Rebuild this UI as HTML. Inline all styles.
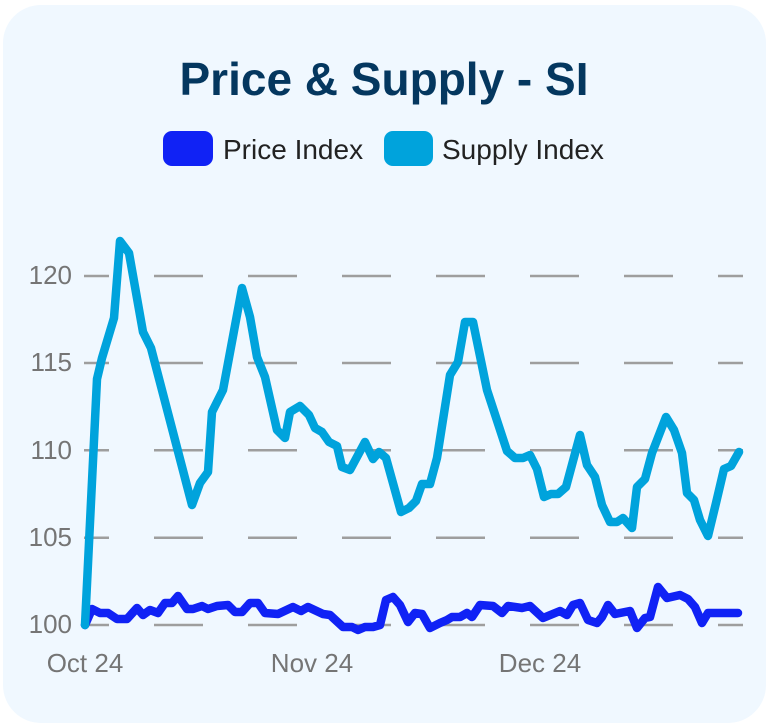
<!DOCTYPE html>
<html>
<head>
<meta charset="utf-8">
<style>
  html, body { margin:0; padding:0; background:#ffffff; }
  svg { display:block; }
  text { font-family: "Liberation Sans", sans-serif; }
</style>
</head>
<body>
<svg width="768" height="725" viewBox="0 0 768 725" xmlns="http://www.w3.org/2000/svg">
  <rect x="0" y="0" width="768" height="725" fill="#ffffff"/>
  <rect x="3" y="5" width="763" height="718" rx="38" ry="38" fill="#f0f8ff"/>

  <!-- Title -->
  <text x="384" y="95" text-anchor="middle" font-size="46" font-weight="bold" fill="#04375f">Price &amp; Supply - SI</text>

  <!-- Legend -->
  <rect x="163" y="131" width="50" height="35" rx="9" ry="9" fill="#1022f5"/>
  <text x="223" y="159" font-size="28" fill="#222222">Price Index</text>
  <rect x="384" y="131" width="49" height="35" rx="9" ry="9" fill="#00a3dc"/>
  <text x="442" y="159" font-size="28" fill="#222222">Supply Index</text>

  <!-- Gridlines -->
  <g stroke="#9e9e9e" stroke-width="2.5" stroke-dasharray="49 45" stroke-dashoffset="24" fill="none">
    <line x1="84" y1="276" x2="743" y2="276"/>
    <line x1="84" y1="363" x2="743" y2="363"/>
    <line x1="84" y1="450.3" x2="743" y2="450.3"/>
    <line x1="84" y1="537.7" x2="743" y2="537.7"/>
    <line x1="84" y1="625" x2="743" y2="625"/>
  </g>

  <!-- Y labels -->
  <g font-size="26" fill="#757575" text-anchor="end">
    <text x="72" y="284">120</text>
    <text x="72" y="371">115</text>
    <text x="72" y="459">110</text>
    <text x="72" y="546">105</text>
    <text x="72" y="633">100</text>
  </g>

  <!-- X labels -->
  <g font-size="26" fill="#757575" text-anchor="middle">
    <text x="85" y="672">Oct 24</text>
    <text x="312" y="672">Nov 24</text>
    <text x="540" y="672">Dec 24</text>
  </g>

  <!-- Price Index -->
  <polyline fill="none" stroke="#1022f5" stroke-width="8.5" stroke-linejoin="round" stroke-linecap="round"
    points="85,625 92,609 100,613 108,613 117,619 127,619 137,608 143,615 150,610 158,613 165,603 172,603 178,596 187,609 193,609 202,606 208,609 217,606 228,605 235,612 242,612 250,603 258,603 265,613 278,614 293,607 301,611 308,607 323,614 330,615 343,627 352,627 358,630 365,627 373,627 380,625 386,600 393,597 400,605 408,622 415,613 422,614 430,628 440,623 447,620 452,617 460,617 467,613 472,617 480,605 493,606 502,613 508,606 522,608 530,606 543,618 560,611 567,615 573,605 580,603 588,620 597,623 602,617 608,605 615,614 630,611 637,628 645,618 650,617 658,587 667,598 680,595 688,599 695,607 702,623 708,613 730,613 738,613"/>

  <!-- Supply Index -->
  <polyline fill="none" stroke="#00a3dc" stroke-width="8.5" stroke-linejoin="round" stroke-linecap="round"
    points="85,625 97,379 102,358 114,318 120,241 129,253 143,332 151,348 192,505 200,483 208,472 212,412 223,390 242,288 250,317 257,357 265,377 277,430 285,438 290,412 300,406 309,415 315,428 322,432 329,442 337,446 342,467 350,470 365,442 373,459 379,452 386,458 401,512 409,508 416,501 422,484 430,484 437,458 450,375 458,362 465,322 473,322 487,390 507,451 515,458 523,458 530,455 537,469 544,497 551,494 558,494 566,487 580,435 587,465 595,477 602,505 610,522 617,522 623,518 632,528 637,487 645,479 652,453 666,417 674,430 682,453 687,493 694,500 700,520 708,536 716,503 724,469 731,466 739,452"/>
</svg>
</body>
</html>
